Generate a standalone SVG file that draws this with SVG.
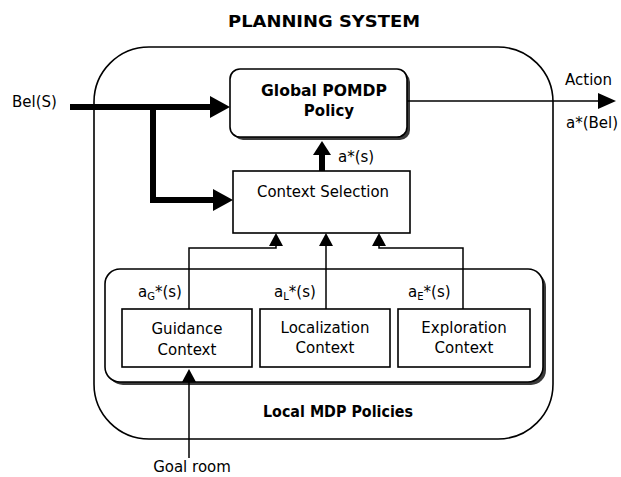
<svg xmlns="http://www.w3.org/2000/svg" width="621" height="477" viewBox="0 0 621 477">
<style>
  text { font-family: "DejaVu Sans", Verdana, sans-serif; font-size: 15px; fill: #000; }
  .b { font-weight: bold; }
  .c { text-anchor: middle; }
  .box { fill: #fff; stroke: #000; stroke-width: 1.6; }
  .shadow { fill: #3a3a3a; stroke: none; }
  .thick { fill: none; stroke: #000; stroke-width: 6; stroke-linejoin: miter; }
  .thin { fill: none; stroke: #000; stroke-width: 1.5; }
  .sub { font-size: 10px; }
</style>
<defs>
  <marker id="thickHead" markerUnits="userSpaceOnUse" markerWidth="20" markerHeight="22" refX="2" refY="11" orient="auto">
    <path d="M0,0 L20,11 L0,22 z" fill="#000"/>
  </marker>
  <marker id="midHead" markerUnits="userSpaceOnUse" markerWidth="14" markerHeight="18" refX="1" refY="9" orient="auto">
    <path d="M0,0 L14,9 L0,18 z" fill="#000"/>
  </marker>
  <marker id="thinHead" markerUnits="userSpaceOnUse" markerWidth="13" markerHeight="14" refX="0" refY="7" orient="auto">
    <path d="M0,0 L13,7 L0,14 z" fill="#000"/>
  </marker>
  <marker id="outHead" markerUnits="userSpaceOnUse" markerWidth="18" markerHeight="16" refX="0" refY="8" orient="auto">
    <path d="M0,0 L18,8 L0,16 z" fill="#000"/>
  </marker>
</defs>

<text class="b c" x="324" y="27" font-size="17" textLength="192" lengthAdjust="spacingAndGlyphs">PLANNING SYSTEM</text>

<g id="planning-system">
  <rect x="94" y="47" width="459" height="392" rx="55" ry="55" fill="none" stroke="#000" stroke-width="1.6"/>
</g>

<g id="local-mdp-policies">
  <rect class="shadow" x="108" y="272" width="438" height="113" rx="15"/>
  <rect class="box" x="105" y="269" width="438" height="113" rx="15"/>
  <text class="b c" x="338" y="417" textLength="150" lengthAdjust="spacingAndGlyphs">Local MDP Policies</text>
</g>

<g id="global-pomdp">
  <rect class="shadow" x="233" y="72" width="177" height="68" rx="10"/>
  <rect class="box" x="230" y="69" width="177" height="68" rx="10"/>
  <text class="b c" x="324" y="96" textLength="126" lengthAdjust="spacingAndGlyphs">Global POMDP</text>
  <text class="b c" x="329" y="116">Policy</text>
</g>

<g id="context-selection">
  <rect class="box" x="233" y="171" width="177" height="62"/>
  <text class="c" x="323" y="197" textLength="132" lengthAdjust="spacingAndGlyphs">Context Selection</text>
</g>

<g id="guidance">
  <rect class="box" x="122" y="309" width="130" height="58"/>
  <text class="c" x="187" y="334">Guidance</text>
  <text class="c" x="187" y="355">Context</text>
</g>

<g id="localization">
  <rect class="box" x="260" y="309" width="130" height="58"/>
  <text class="c" x="325" y="333">Localization</text>
  <text class="c" x="325" y="353">Context</text>
</g>

<g id="exploration">
  <rect class="box" x="398" y="309" width="132" height="58"/>
  <text class="c" x="464" y="333">Exploration</text>
  <text class="c" x="464" y="353">Context</text>
</g>

<g id="connectors">
  <path class="thick" d="M70,107 H212" marker-end="url(#thickHead)"/>
  <path class="thick" d="M153,104 V200 H215" marker-end="url(#thickHead)"/>
  <path class="thick" d="M322,171 V154" marker-end="url(#midHead)"/>
  <path class="thin" d="M407,101 H598" marker-end="url(#outHead)"/>
  <path class="thin" d="M189,309 V248 H276 V246" marker-end="url(#thinHead)"/>
  <path class="thin" d="M326,309 V246" marker-end="url(#thinHead)"/>
  <path class="thin" d="M463,309 V248 H379 V246" marker-end="url(#thinHead)"/>
  <path class="thin" d="M189,458 V382" marker-end="url(#thinHead)"/>
</g>

<g id="labels">
  <text x="12" y="107">Bel(S)</text>
  <text x="565" y="85">Action</text>
  <text x="566" y="128">a*(Bel)</text>
  <text x="338" y="162">a*(s)</text>
  <text x="138" y="297">a<tspan class="sub" dy="3">G</tspan><tspan dy="-3">*(s)</tspan></text>
  <text x="274" y="297">a<tspan class="sub" dy="3">L</tspan><tspan dy="-3">*(s)</tspan></text>
  <text x="408" y="297">a<tspan class="sub" dy="3">E</tspan><tspan dy="-3">*(s)</tspan></text>
  <text class="c" x="192" y="472">Goal room</text>
</g>
</svg>
